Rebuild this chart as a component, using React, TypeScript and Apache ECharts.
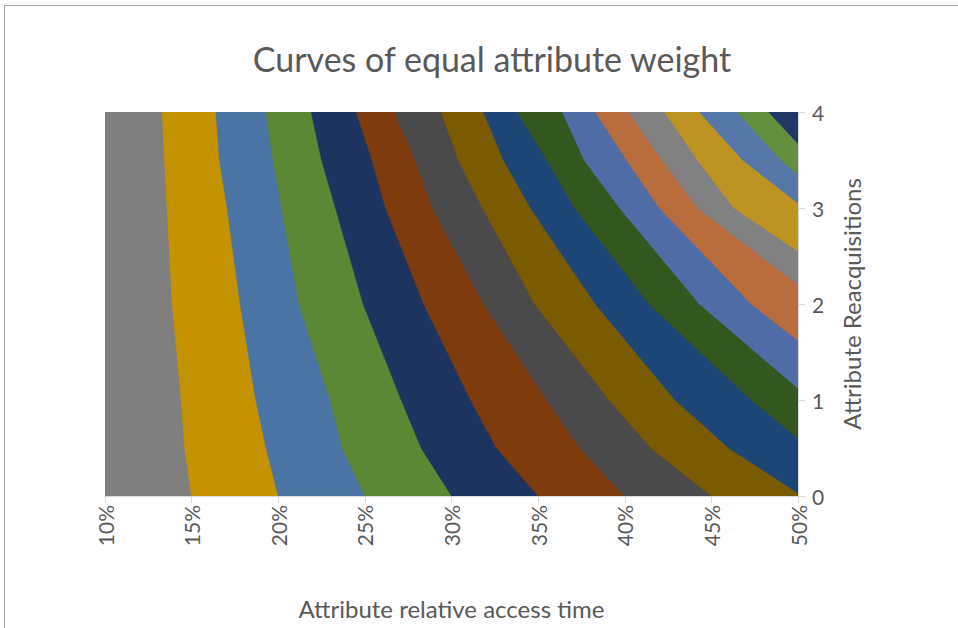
import React, { useEffect, useRef } from 'react';
import * as echarts from 'echarts';

const chartTitle = 'Curves of equal attribute weight';
const xAxisName = 'Attribute relative access time';
const yAxisName = 'Attribute Reacquisitions';

const xMin = 10;
const xMax = 50;
const xStep = 5;
const yMin = 0;
const yMax = 4;
const yStep = 1;

// colour of each weight band, from the lowest weight (left) to the highest (top right)
const bandColors = [
  '#7f7f7f', '#c69300', '#4a74a3', '#5a8834', '#1d3461', '#7e3b0d',
  '#4a4a4a', '#7a5b02', '#1c4676', '#34561f', '#4f6ca6', '#b96c3c',
  '#818181', '#bd9322', '#5578a8', '#62903f', '#1f3868',
];

// equal-weight curves: [access time %, reacquisitions], from the top edge downwards
const curve1 = [[13.3, 4], [13.44, 3.5], [13.58, 3], [13.88, 2], [14.4, 1], [14.6, 0.5], [15, 0]];
const curve2 = [[16.4, 4], [16.6, 3.5], [17.05, 3], [17.8, 2], [18.7, 1], [19.3, 0.5], [20, 0]];
const curve3 = [[19.3, 4], [19.7, 3.5], [20.2, 3], [21.2, 2], [23.0, 1], [23.7, 0.5], [25, 0]];
const curve4 = [[21.9, 4], [22.5, 3.5], [23.3, 3], [24.9, 2], [27.1, 1], [28.25, 0.5], [30, 0]];
const curve5 = [[24.5, 4], [25.4, 3.5], [26.2, 3], [28.4, 2], [31.1, 1], [32.6, 0.5], [35, 0]];
const curve6 = [[26.7, 4], [27.9, 3.5], [28.9, 3], [31.85, 2], [35.5, 1], [37.4, 0.5], [40, 0]];
const curve7 = [[29.4, 4], [30.4, 3.5], [31.8, 3], [34.8, 2], [39.1, 1], [41.5, 0.5], [45, 0]];
const curve8 = [[31.85, 4], [33.0, 3.5], [34.56, 3], [38.3, 2], [42.9, 1], [46.0, 0.5], [50, 0.03]];
const curve9 = [[33.8, 4], [35.5, 3.5], [37.1, 3], [41.4, 2], [47.3, 1], [50, 0.6]];
const curve10 = [[36.4, 4], [37.65, 3.5], [39.7, 3], [44.3, 2], [50, 1.12]];
const curve11 = [[38.3, 4], [40.1, 3.5], [42.0, 3], [47.3, 2], [50, 1.62]];
const curve12 = [[40.2, 4], [42.15, 3.5], [44.2, 3], [50, 2.2]];
const curve13 = [[42.3, 4], [44.2, 3.5], [46.3, 3], [50, 2.55]];
const curve14 = [[44.3, 4], [46.8, 3.5], [50, 3.05]];
const curve15 = [[46.5, 4], [49.0, 3.5], [50, 3.35]];
const curve16 = [[48.3, 4], [50, 3.67]];

const curves = [
  curve1, curve2, curve3, curve4, curve5, curve6, curve7, curve8,
  curve9, curve10, curve11, curve12, curve13, curve14, curve15, curve16,
];

const textColor = '#595959';
const axisColor = '#d9d9d9';
const fontFamily = 'Lato';

function bandRegion(index: number): number[][] {
  if (index === 0) {
    return [[xMin, yMin], [xMin, yMax], [xMax, yMax], [xMax, yMin]];
  }
  const c = curves[index - 1];
  const pts = c.map((p) => [p[0], p[1]]);
  const last = c[c.length - 1];
  if (last[1] === yMin) {
    pts.push([xMax, yMin]);
  }
  pts.push([xMax, yMax]);
  return pts;
}

export default function App() {
  const ref = useRef<HTMLDivElement>(null);

  useEffect(() => {
    if (!ref.current) return;
    const chart = echarts.init(ref.current, null, { renderer: 'svg' });
    chart.setOption({
      animation: false,
      backgroundColor: '#ffffff',
      title: {
        text: chartTitle,
        left: 487,
        top: 36,
        textAlign: 'center',
        textStyle: { color: textColor, fontSize: 34, fontWeight: 'normal', fontFamily },
      },
      graphic: [
        {
          type: 'rect',
          shape: { x: 4.5, y: 5.5, width: 1200, height: 1200 },
          style: { fill: 'none', stroke: '#a6a6a6', lineWidth: 1 },
          silent: true,
        },
      ],
      grid: { left: 105, right: 160, top: 112, bottom: 132, containLabel: false },
      xAxis: {
        type: 'value',
        min: xMin,
        max: xMax,
        interval: xStep,
        position: 'bottom',
        axisLine: { show: true, lineStyle: { color: axisColor } },
        axisTick: { show: true, length: 7, lineStyle: { color: axisColor } },
        axisLabel: {
          rotate: 90,
          margin: 9,
          color: textColor,
          fontSize: 21,
          fontFamily,
          formatter: (v: number) => `${v}%`,
        },
        splitLine: { show: false },
        name: xAxisName,
        nameLocation: 'middle',
        nameGap: 100,
        nameTextStyle: { color: textColor, fontSize: 24, fontFamily },
      },
      yAxis: {
        type: 'value',
        min: yMin,
        max: yMax,
        interval: yStep,
        position: 'right',
        axisLine: { show: true, lineStyle: { color: axisColor } },
        axisTick: { show: true, length: 7, lineStyle: { color: axisColor } },
        axisLabel: { margin: 14, color: textColor, fontSize: 21, fontFamily },
        splitLine: { show: false },
        name: yAxisName,
        nameLocation: 'middle',
        nameRotate: 90,
        nameGap: 41,
        nameTextStyle: { color: textColor, fontSize: 24, fontFamily },
      },
      series: [
        {
          type: 'custom',
          clip: true,
          silent: true,
          data: bandColors.map((_, i) => [i]),
          renderItem: (params: any, api: any) => {
            const i = params.dataIndex;
            const points = bandRegion(i).map((p) => api.coord(p));
            return {
              type: 'polygon',
              shape: { points },
              style: { fill: bandColors[i], stroke: bandColors[i], lineWidth: 0.5 },
            };
          },
        },
      ],
    });
    return () => chart.dispose();
  }, []);

  return (
    <div
      ref={ref}
      style={{ position: 'fixed', left: 0, top: 0, width: 958, height: 628 }}
    />
  );
}
